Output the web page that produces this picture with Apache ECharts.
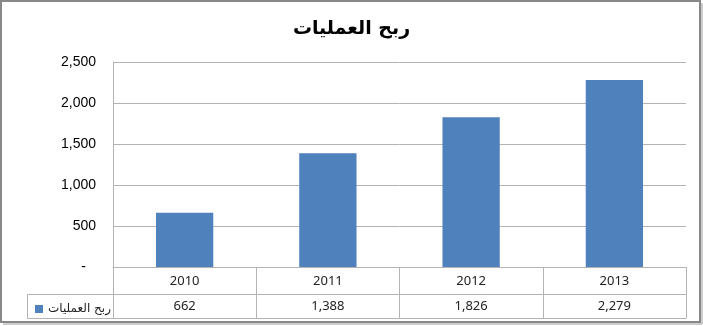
<!DOCTYPE html>
<html><head><meta charset="utf-8">
<script src="https://cdn.jsdelivr.net/npm/echarts@6/dist/echarts.min.js"></script>
<style>html,body{margin:0;padding:0;background:#fff}#c{width:703px;height:326px}</style>
</head><body><div id="c"></div>
<script>
var title = 'ربح العمليات';
var seriesName = 'ربح العمليات';
var categories = ['2010', '2011', '2012', '2013'];
var values = [662, 1388, 1826, 2279];
var yTicks = [0, 500, 1000, 1500, 2000, 2500];

function fmt(v) { return v.toLocaleString('en-US'); }

var chart = echarts.init(document.getElementById('c'));
var grid = '#b3b3b3';
var tableFont = { fontFamily: 'Noto Sans', fontSize: 13, color: '#222' };
chart.setOption({
  animation: false,
  backgroundColor: '#fff',
  title: {
    text: title, left: 'center', top: 15,
    textStyle: { fontFamily: 'DejaVu Sans', fontWeight: 'bold', fontSize: 19, color: '#000' }
  },
  legend: {
    data: [seriesName], left: 30, top: 298, itemWidth: 8, itemHeight: 8, itemGap: 5,
    icon: 'rect',
    textStyle: { fontFamily: 'DejaVu Sans', fontSize: 12, color: '#222' }
  },
  grid: { left: 113, right: 17, top: 62, bottom: 59 },
  xAxis: [
    {
      type: 'category', data: categories, position: 'bottom',
      axisLine: { show: true, lineStyle: { color: grid } },
      axisTick: { show: true, alignWithLabel: false, length: 27, lineStyle: { color: grid } },
      axisLabel: Object.assign({ margin: 8 }, tableFont)
    },
    {
      type: 'category', data: values.map(fmt), position: 'bottom', offset: 27,
      axisLine: { show: true, lineStyle: { color: grid } },
      axisTick: { show: true, length: 24, lineStyle: { color: grid } },
      axisLabel: Object.assign({ margin: 6 }, tableFont)
    },
    {
      type: 'category', data: categories, position: 'bottom', offset: 51,
      axisLine: { show: true, lineStyle: { color: grid } },
      axisTick: { show: false }, axisLabel: { show: false }
    }
  ],
  yAxis: {
    type: 'value', min: yTicks[0], max: yTicks[yTicks.length - 1], interval: 500,
    axisLine: { show: true, lineStyle: { color: grid } },
    axisTick: { show: false },
    splitLine: { lineStyle: { color: grid } },
    axisLabel: {
      margin: 17, fontFamily: 'Liberation Sans', fontSize: 14, color: '#000',
      formatter: function (v) { return v === 0 ? '{d|-}' : fmt(v); },
      rich: { d: { fontFamily: 'Liberation Sans', fontSize: 14, color: '#000', padding: [0, 10, 0, 0] } }
    }
  },
  series: [{
    name: seriesName, type: 'bar', data: values, barWidth: '40%',
    itemStyle: { color: '#4F81BD' }
  }],
  graphic: [
    { type: 'rect', shape: { x: 27.5, y: 294.5, width: 86, height: 24 },
      style: { fill: 'none', stroke: grid, lineWidth: 1 }, z: 1 },
    { type: 'rect', shape: { x: 1, y: 1, width: 699, height: 321 },
      style: { fill: 'none', stroke: '#888', lineWidth: 2 }, z: 0 },
    { type: 'line', shape: { x1: 3, y1: 324, x2: 702, y2: 324 },
      style: { stroke: '#ccc', lineWidth: 2 }, z: 0 },
    { type: 'line', shape: { x1: 702, y1: 3, x2: 702, y2: 324 },
      style: { stroke: '#ccc', lineWidth: 2 }, z: 0 }
  ]
});
</script></body></html>
